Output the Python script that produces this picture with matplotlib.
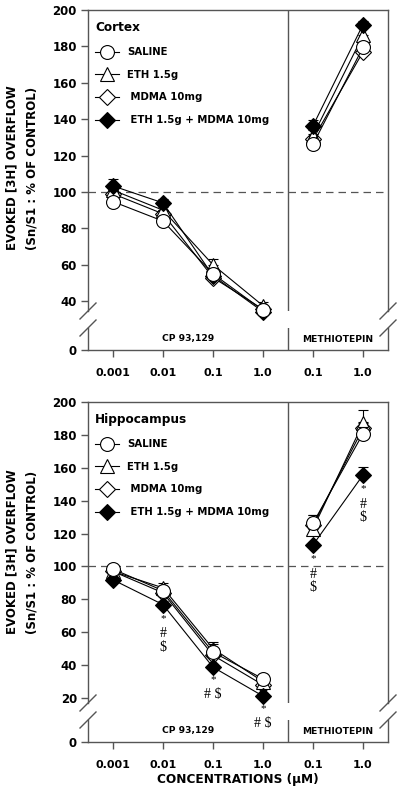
import numpy as np
import matplotlib
matplotlib.use("Agg")
import matplotlib.pyplot as plt
from matplotlib.lines import Line2D

# concentrations on the x axis (CP 93,129 x4, then methiotepin x2)
conc_labels = ["0.001", "0.01", "0.1", "1.0", "0.1", "1.0"]
group_names = ["CP 93,129", "METHIOTEPIN"]
series_names = ["SALINE", "ETH 1.5g", " MDMA 10mg", " ETH 1.5g + MDMA 10mg"]

# Cortex (% of control)
ctx_saline = [94.7, 84.0, 55.0, 35.0, 126.2, 179.5]
ctx_eth = [101.0, 90.0, 60.0, 37.5, 131.0, 186.0]
ctx_mdma = [99.0, 88.0, 53.0, 35.5, 129.0, 177.0]
ctx_combo = [103.3, 94.0, 54.0, 34.2, 136.4, 192.0]
ctx_saline_err = [2, 2, 3, 2, 3, 3]
ctx_eth_err = [2, 2, 3, 2, 3, 4]
ctx_mdma_err = [2, 2, 2, 2, 3, 3]
ctx_combo_err = [4, 2, 2, 2, 3, 2]

# Hippocampus (% of control)
hip_saline = [98.4, 85.3, 47.9, 31.7, 126.3, 180.8]
hip_eth = [97.0, 87.0, 50.0, 30.0, 123.0, 187.0]
hip_mdma = [97.0, 84.0, 46.0, 28.0, 125.0, 184.0]
hip_combo = [91.9, 76.8, 38.8, 21.2, 113.1, 155.6]
hip_saline_err = [2, 2, 5, 3, 5, 4]
hip_eth_err = [2, 3, 4, 3, 8, 8]
hip_mdma_err = [2, 2, 3, 2, 4, 4]
hip_combo_err = [2, 2, 2, 2, 2, 5]

# significance marks under the ETH + MDMA points (hippocampus)
sig_idx = [1, 2, 3, 4, 5]
sig_rows = [["*", "#", "$"], ["*", "# $"], ["*", "# $"], ["*", "#", "$"], ["*", "#", "$"]]

W, H = 397, 787
GREY = "#555555"
plt.rcParams["font.family"] = "DejaVu Sans"
plt.rcParams["font.weight"] = "bold"

fig = plt.figure(figsize=(W / 100, H / 100), dpi=100)


def px_axes(l, t, r, b):
    return fig.add_axes([l / W, 1 - b / H, (r - l) / W, (b - t) / H])


def slashes(ax, where):
    p = ax.get_position()
    y = p.y0 if where == "bottom" else p.y1
    for x in (p.x0, p.x1):
        fig.add_artist(Line2D([x - 8 / W, x + 8 / W], [y - 8 / H, y + 8 / H],
                              color=GREY, lw=1.0))


def style(ax):
    ax.patch.set_visible(False)
    for s in ax.spines.values():
        s.set_color(GREY)
        s.set_linewidth(1.0)
    ax.tick_params(direction="out", length=5, width=1.0, color=GREY,
                   labelcolor="black")


def panel(top, region, data, errs, ymin, sig=False):
    lo = px_axes(88, top + 318, 388, top + 340)
    ax = px_axes(88, top, 388, top + 301)
    x = np.arange(len(conc_labels))
    for a in (ax, lo):
        style(a)
        a.set_xlim(-0.5, len(conc_labels) - 0.5)
        a.axvline(3.5, color=GREY, lw=1.0)
    ax.set_ylim(ymin, 200)
    ax.set_yticks(np.arange(20 if ymin < 20 else 40, 201, 20))
    ax.spines["bottom"].set_visible(False)
    ax.tick_params(axis="x", bottom=False, labelbottom=False)
    ax.tick_params(axis="y", labelsize=8.5, pad=3)
    ax.axhline(100, color=GREY, lw=0.9, ls=(0, (6, 4)), zorder=1)

    lo.set_ylim(0, 10)
    lo.set_yticks([0])
    lo.spines["top"].set_visible(False)
    lo.set_xticks(x)
    lo.set_xticklabels(conc_labels)
    lo.tick_params(axis="x", labelsize=8, pad=8)
    lo.tick_params(axis="y", labelsize=8.5, pad=3)
    lo.text(1.5, 5, group_names[0], ha="center", va="center", fontsize=6.6)
    lo.text(4.5, 5, group_names[1], ha="center", va="center", fontsize=6.6)

    styles = [("o", "white", 10, 6), ("^", "white", 10, 4), ("D", "white", 8, 3), ("D", "black", 8, 5)]
    handles = []
    for (y, e), (m, fc, ms, z) in zip(zip(data, errs), styles):
        y = np.array(y)
        e = np.array(e)
        for seg in (slice(0, 4), slice(4, 6)):
            ax.errorbar(x[seg], y[seg], yerr=[np.zeros_like(e[seg]), e[seg]],
                        fmt="none", ecolor="black", elinewidth=0.8, capsize=3.5,
                        capthick=0.8, zorder=z, clip_on=False)
            ln, = ax.plot(x[seg], y[seg], color="black", lw=0.8, marker=m, ms=ms,
                          mfc=fc, mec="black", mew=0.8, zorder=z, clip_on=False)
        handles.append(ln)

    leg = ax.legend(handles, series_names, title=region, loc="upper left",
                    bbox_to_anchor=(0.023, 0.962), frameon=False, fontsize=7.3,
                    title_fontproperties={"weight": "bold", "size": 8.7},
                    alignment="left", handlelength=2.4, handletextpad=0.8,
                    labelspacing=1.25, borderaxespad=0, borderpad=0)
    leg.set_zorder(10)

    if sig:
        combo = data[3]
        for i, rows in zip(sig_idx, sig_rows):
            offs = [-10, -21, -30.5] if len(rows) == 3 else [-9, -20]
            for txt, o in zip(rows, offs):
                ax.annotate(txt, xy=(x[i], combo[i]), xytext=(0, o),
                            textcoords="offset points", ha="center", va="center",
                            fontsize=8 if txt == "*" else 10,
                            family="Liberation Serif", weight="normal",
                            annotation_clip=False, zorder=12)

    slashes(ax, "bottom")
    slashes(lo, "top")
    return ax, lo


panel(10, "Cortex", [ctx_saline, ctx_eth, ctx_mdma, ctx_combo],
      [ctx_saline_err, ctx_eth_err, ctx_mdma_err, ctx_combo_err], 34.6)
ax2, lo2 = panel(402, "Hippocampus", [hip_saline, hip_eth, hip_mdma, hip_combo],
                 [hip_saline_err, hip_eth_err, hip_mdma_err, hip_combo_err], 17.0, sig=True)
lo2.set_xlabel("CONCENTRATIONS (\u00b5M)", fontsize=8.7, labelpad=2, weight="bold")

for yc in (168, 552):
    fig.text(12 / W, 1 - yc / H, "EVOKED [3H] OVERFLOW", rotation=90,
             ha="center", va="center", fontsize=8.5)
    fig.text(32 / W, 1 - yc / H, "(Sn/S1 : % OF CONTROL)", rotation=90,
             ha="center", va="center", fontsize=8.5)

fig.savefig("out.png", dpi=100)
